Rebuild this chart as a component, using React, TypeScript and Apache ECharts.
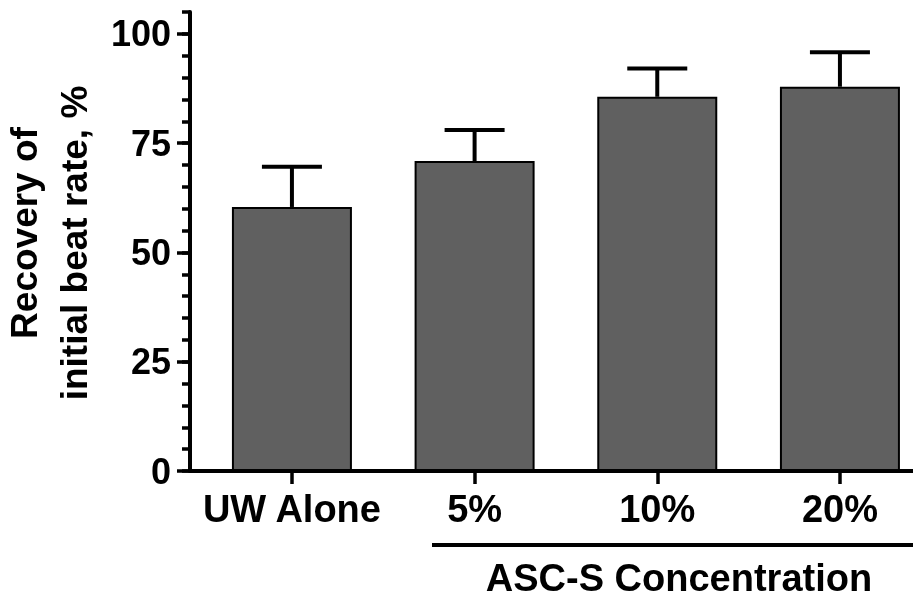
import React, { useEffect, useRef } from 'react';
import * as echarts from 'echarts';

const categories = ['UW Alone', '5%', '10%', '20%'];
const means = [60.4, 70.9, 85.6, 87.9];
const upperErrors = [69.6, 78.0, 92.1, 95.8];
const yMajorTicks = [0, 25, 50, 75, 100];
const xTitle = 'ASC-S Concentration';
const yTitleLines = ['Recovery of', 'initial beat rate, %'];

export default function App() {
  const ref = useRef<HTMLDivElement>(null);
  useEffect(() => {
    const chart = echarts.init(ref.current!, null, { renderer: 'svg' });
    const font = "'Liberation Sans', Arial, Helvetica, sans-serif";
    const positions = categories.map((_, i) => i);
    const barData = means.map((m, i) => [i, m]);
    const errData = means.map((m, i) => [i, m, upperErrors[i]]);
    const yTextStyle = { fontSize: 36, fontWeight: 'bold', color: '#000', fontFamily: font };
    const xTextStyle = { fontSize: 38, fontWeight: 'bold', color: '#000', fontFamily: font };
    chart.setOption({
      animation: false,
      grid: { left: 190, right: 0, top: 12, bottom: 128 },
      xAxis: {
        type: 'value',
        min: -0.558,
        max: 3.4,
        splitLine: { show: false },
        axisLine: { show: true, onZero: false, lineStyle: { color: '#000', width: 4 } },
        axisTick: { show: true, customValues: positions, length: 13, lineStyle: { color: '#000', width: 3.5 } },
        axisLabel: {
          customValues: positions,
          formatter: (v: number) => categories[Math.round(v)] ?? '',
          ...xTextStyle,
          margin: 19,
        },
      },
      yAxis: [
        {
          type: 'value',
          min: 0,
          max: 105,
          interval: 5,
          position: 'left',
          splitLine: { show: false },
          axisLine: { show: true, onZero: false, lineStyle: { color: '#000', width: 4 } },
          axisTick: { show: true, length: 8, lineStyle: { color: '#000', width: 3.5 } },
          axisLabel: {
            formatter: (v: number) => (yMajorTicks.includes(v) ? String(v) : ''),
            ...yTextStyle,
            margin: 19,
          },
        },
        {
          type: 'value',
          min: 0,
          max: 105,
          position: 'left',
          offset: 0,
          splitLine: { show: false },
          axisLine: { show: false, onZero: false },
          axisTick: { show: true, customValues: yMajorTicks, length: 13, lineStyle: { color: '#000', width: 3.5 } },
          axisLabel: { show: false },
        },
      ],
      series: [
        {
          type: 'bar',
          xAxisIndex: 0,
          yAxisIndex: 0,
          data: barData,
          barWidth: 120,
          itemStyle: { color: '#606060', borderColor: '#000', borderWidth: 2 },
          z: 2,
        },
        {
          type: 'custom',
          xAxisIndex: 0,
          yAxisIndex: 0,
          data: errData,
          encode: { x: 0, y: [1, 2] },
          z: 3,
          renderItem: (params: any, api: any) => {
            const x = api.value(0);
            const lo = api.coord([x, api.value(1)]);
            const hi = api.coord([x, api.value(2)]);
            const half = 30;
            const style = { stroke: '#000', lineWidth: 4 };
            return {
              type: 'group',
              children: [
                { type: 'line', shape: { x1: lo[0], y1: lo[1], x2: hi[0], y2: hi[1] }, style },
                { type: 'line', shape: { x1: hi[0] - half, y1: hi[1], x2: hi[0] + half, y2: hi[1] }, style },
              ],
            };
          },
        },
      ],
      graphic: [
        {
          type: 'text',
          x: 24,
          y: 233,
          rotation: Math.PI / 2,
          style: { text: yTitleLines[0], align: 'center', verticalAlign: 'middle', fontSize: 37, fontWeight: 'bold', fill: '#000', fontFamily: font },
        },
        {
          type: 'text',
          x: 74,
          y: 243,
          rotation: Math.PI / 2,
          style: { text: yTitleLines[1], align: 'center', verticalAlign: 'middle', fontSize: 37, fontWeight: 'bold', fill: '#000', fontFamily: font },
        },
        {
          type: 'line',
          shape: { x1: 432, y1: 545, x2: 913, y2: 545 },
          style: { stroke: '#000', lineWidth: 4 },
        },
        {
          type: 'text',
          x: 679,
          y: 578,
          style: { text: xTitle, align: 'center', verticalAlign: 'middle', fontSize: 38, lineHeight: 38, fontWeight: 'bold', fill: '#000', fontFamily: font },
        },
      ],
    });
    return () => chart.dispose();
  }, []);
  return <div ref={ref} style={{ position: 'fixed', left: 0, top: 0, width: 913, height: 599 }} />;
}
